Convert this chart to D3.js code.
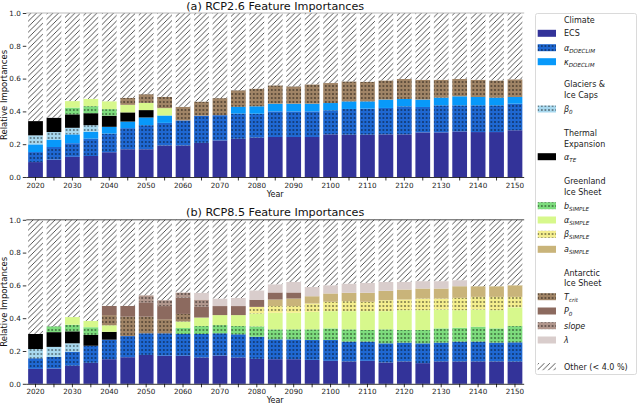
<!DOCTYPE html>
<html>
<head>
<meta charset="utf-8">
<script src="https://cdn.jsdelivr.net/npm/d3@7"></script>
<style>
  body { margin: 0; background: #fff; }
  svg { font-family: "DejaVu Sans", sans-serif; }
</style>
</head>
<body>
<svg id="chart" width="640" height="406"></svg>
<script>
// categories
const years = [2020, 2025, 2030, 2035, 2040, 2045, 2050, 2055, 2060, 2065, 2070, 2075, 2080, 2085,
  2090, 2095, 2100, 2105, 2110, 2115, 2120, 2125, 2130, 2135, 2140, 2145, 2150];
const yTicks = [0, 0.2, 0.4, 0.6, 0.8, 1.0];

// (a) RCP2.6 importances, one value per year
const ecs26 = [0.091, 0.106, 0.123, 0.128, 0.151, 0.169, 0.169, 0.192, 0.192, 0.208, 0.223, 0.233, 0.240, 0.244,
  0.244, 0.244, 0.260, 0.258, 0.258, 0.260, 0.260, 0.272, 0.272, 0.278, 0.274, 0.274, 0.285];
const aDoeclim26 = [0.061, 0.077, 0.083, 0.106, 0.114, 0.129, 0.147, 0.138, 0.153, 0.166, 0.154, 0.154, 0.146, 0.156,
  0.156, 0.156, 0.147, 0.157, 0.159, 0.161, 0.171, 0.155, 0.165, 0.159, 0.163, 0.163, 0.162];
const kDoeclim26 = [0.047, 0.045, 0.054, 0.041, 0.041, 0.040, 0.047, 0.045, 0, 0, 0, 0.041, 0.045, 0.047,
  0.047, 0.047, 0.044, 0.046, 0.044, 0.051, 0.045, 0.045, 0.047, 0.055, 0.051, 0.047, 0.041];
const beta026 = [0.055, 0.046, 0.040, 0.041, 0, 0, 0, 0, 0, 0, 0, 0, 0, 0,
  0, 0, 0, 0, 0, 0, 0, 0, 0, 0, 0, 0, 0];
const aTE26 = [0.087, 0.088, 0.082, 0.073, 0.068, 0.056, 0.045, 0, 0, 0, 0, 0, 0, 0,
  0, 0, 0, 0, 0, 0, 0, 0, 0, 0, 0, 0, 0];
const bSimple26 = [0, 0, 0.041, 0.043, 0.040, 0, 0, 0, 0, 0, 0, 0, 0, 0,
  0, 0, 0, 0, 0, 0, 0, 0, 0, 0, 0, 0, 0];
const alphaSimple26 = [0, 0, 0.040, 0.045, 0.048, 0.046, 0.044, 0.045, 0, 0, 0, 0, 0, 0,
  0, 0, 0, 0, 0, 0, 0, 0, 0, 0, 0, 0, 0];
const tCrit26 = [0, 0, 0, 0, 0, 0.043, 0.053, 0.069, 0.083, 0.086, 0.104, 0.101, 0.108, 0.112,
  0.106, 0.118, 0.122, 0.122, 0.120, 0.117, 0.122, 0.121, 0.109, 0.106, 0.105, 0.105, 0.108];

// (b) RCP8.5 importances
const ecs85 = [0.091, 0.093, 0.110, 0.128, 0.150, 0.162, 0.176, 0.171, 0.171, 0.160, 0.172, 0.160, 0.152, 0.150,
  0.150, 0.146, 0.140, 0.136, 0.140, 0.130, 0.136, 0.126, 0.136, 0.136, 0.136, 0.136, 0.135];
const aDoeclim85 = [0.065, 0.071, 0.086, 0.104, 0.119, 0.129, 0.132, 0.137, 0.133, 0.144, 0.136, 0.142, 0.135, 0.121,
  0.121, 0.121, 0.127, 0.121, 0.117, 0.117, 0.115, 0.121, 0.115, 0.121, 0.121, 0.115, 0.118];
const beta085 = [0.056, 0.061, 0.051, 0, 0, 0, 0, 0, 0, 0, 0, 0, 0, 0,
  0, 0, 0, 0, 0, 0, 0, 0, 0, 0, 0, 0, 0];
const aTE85 = [0.092, 0.090, 0.073, 0.066, 0.048, 0, 0, 0, 0, 0, 0, 0, 0, 0,
  0, 0, 0, 0, 0, 0, 0, 0, 0, 0, 0, 0, 0];
const bSimple85 = [0, 0.036, 0.040, 0.047, 0, 0, 0, 0, 0.036, 0.048, 0.050, 0.050, 0.063, 0.061,
  0.061, 0.065, 0.071, 0.075, 0.071, 0.085, 0.077, 0.081, 0.087, 0.085, 0.091, 0.087, 0.099];
const alphaSimple85 = [0, 0, 0.047, 0.039, 0.040, 0, 0, 0, 0.040, 0.052, 0.061, 0.067, 0.079, 0.101,
  0.101, 0.107, 0.105, 0.111, 0.115, 0.111, 0.121, 0.121, 0.115, 0.107, 0.105, 0.111, 0.114];
const betaSimple85 = [0, 0, 0, 0, 0, 0, 0, 0, 0, 0, 0, 0, 0.040, 0.041,
  0.041, 0.051, 0.057, 0.061, 0.057, 0.067, 0.065, 0.071, 0.067, 0.075, 0.077, 0.081, 0.064];
const aSimple85 = [0, 0, 0, 0, 0, 0, 0, 0, 0, 0, 0, 0, 0, 0.040,
  0.046, 0.044, 0.051, 0.051, 0.055, 0.057, 0.061, 0.061, 0.061, 0.071, 0.065, 0.065, 0.071];
const tCrit85 = [0, 0, 0, 0, 0.062, 0.118, 0.101, 0.086, 0.046, 0, 0, 0, 0, 0,
  0, 0, 0, 0, 0, 0, 0, 0, 0, 0, 0, 0, 0];
const p085 = [0, 0, 0, 0, 0.056, 0.066, 0.088, 0.080, 0.099, 0.068, 0.055, 0.055, 0.044, 0.043,
  0.037, 0, 0, 0, 0, 0, 0, 0, 0, 0, 0, 0, 0];
const slope85 = [0, 0, 0, 0, 0, 0, 0.043, 0.036, 0.032, 0.042, 0, 0, 0, 0,
  0, 0, 0, 0, 0, 0, 0, 0, 0, 0, 0, 0, 0];
const lambda85 = [0, 0, 0, 0, 0, 0, 0, 0, 0, 0.041, 0.046, 0.050, 0.057, 0.050,
  0.064, 0.057, 0.050, 0.056, 0.060, 0.054, 0.046, 0.045, 0.045, 0.037, 0, 0, 0];

// stacking order, bottom to top
const keys = ['ecs', 'aDoeclim', 'kDoeclim', 'beta0', 'aTE', 'bSimple', 'alphaSimple',
  'betaSimple', 'aSimple', 'tCrit', 'p0', 'slope', 'lambda', 'other'];

const colors = {
  ecs: '#333399', aDoeclim: '#1f68d2', kDoeclim: '#0899fa', beta0: '#a8d8ee', aTE: '#000000',
  bSimple: '#7ddc7d', alphaSimple: '#d7f88c', betaSimple: '#f4ee8e', aSimple: '#c9b47a',
  tCrit: '#a08466', p0: '#8c6a5f', slope: '#b0968c', lambda: '#d9cdcc', other: '#ffffff',
};
const dotted = ['aDoeclim', 'beta0', 'bSimple', 'betaSimple', 'tCrit', 'slope'];

const svg = d3.select('#chart');
const defs = svg.append('defs');

dotted.forEach((k) => {
  const p = defs.append('pattern')
    .attr('id', `dots-${k}`)
    .attr('patternUnits', 'userSpaceOnUse')
    .attr('width', 3.6)
    .attr('height', 4);
  p.append('rect').attr('width', 3.6).attr('height', 4).attr('fill', colors[k]);
  p.append('circle').attr('cx', 1.8).attr('cy', 2).attr('r', 0.65).attr('fill', '#000');
});

const hatch = defs.append('pattern')
  .attr('id', 'hatch')
  .attr('patternUnits', 'userSpaceOnUse')
  .attr('width', 5.5)
  .attr('height', 5.5);
hatch.append('rect').attr('width', 5.5).attr('height', 5.5).attr('fill', '#fff');
hatch.append('path')
  .attr('d', 'M0,5.5L5.5,0M-1,1L1,-1M4.5,6.5L6.5,4.5')
  .attr('stroke', '#1a1a1a')
  .attr('stroke-width', 0.75);

const fillOf = (k) => {
  if (k === 'other') return 'url(#hatch)';
  if (dotted.includes(k)) return `url(#dots-${k})`;
  return colors[k];
};

const x = d3.scaleBand()
  .domain(years)
  .range([26.3, 524.2])
  .paddingInner(0.2)
  .paddingOuter(0.1);

const panels = [
  {
    title: '(a) RCP2.6 Feature Importances', top: 13, bottom: 177,
    series: {
      ecs: ecs26, aDoeclim: aDoeclim26, kDoeclim: kDoeclim26, beta0: beta026, aTE: aTE26,
      bSimple: bSimple26, alphaSimple: alphaSimple26, tCrit: tCrit26,
    },
    spine: '#aaa',
  },
  {
    title: '(b) RCP8.5 Feature Importances', top: 219.8, bottom: 383.8,
    series: {
      ecs: ecs85, aDoeclim: aDoeclim85, beta0: beta085, aTE: aTE85, bSimple: bSimple85,
      alphaSimple: alphaSimple85, betaSimple: betaSimple85, aSimple: aSimple85, tCrit: tCrit85,
      p0: p085, slope: slope85, lambda: lambda85,
    },
    spine: '#222',
  },
];

panels.forEach((panel) => {
  const y = d3.scaleLinear().domain([0, 1]).range([panel.bottom, panel.top]);

  const table = years.map((yr, i) => {
    const row = { year: yr };
    let sum = 0;
    keys.slice(0, -1).forEach((k) => {
      row[k] = panel.series[k] ? panel.series[k][i] : 0;
      sum += row[k];
    });
    row.other = 1 - sum;
    return row;
  });

  const stacked = d3.stack().keys(keys)(table);

  const g = svg.append('g');

  g.selectAll('g.layer')
    .data(stacked)
    .enter()
    .append('g')
    .attr('class', 'layer')
    .attr('fill', d => fillOf(d.key))
    .selectAll('rect')
    .data(d => d.filter(v => v[1] - v[0] > 0))
    .enter()
    .append('rect')
    .attr('x', d => x(d.data.year))
    .attr('y', d => y(d[1]))
    .attr('width', x.bandwidth())
    .attr('height', d => y(d[0]) - y(d[1]));

  // spines
  g.append('line')
    .attr('x1', 26.3).attr('x2', 524.2)
    .attr('y1', panel.top).attr('y2', panel.top)
    .attr('stroke', panel.spine).attr('stroke-width', 0.8);

  const xAxis = g.append('g')
    .attr('transform', `translate(0,${panel.bottom})`)
    .call(d3.axisBottom(x)
      .tickSizeOuter(0)
      .tickSize(3.5)
      .tickPadding(2)
      .tickFormat(d => (d % 10 === 0 ? d : '')));
  xAxis.select('.domain').attr('d', 'M26.3,0.5H524.2').attr('stroke', '#000').attr('stroke-width', 0.8);
  xAxis.selectAll('.tick line').attr('stroke-width', 0.8);
  xAxis.selectAll('text').attr('font-size', 7.2).attr('font-family', 'DejaVu Sans').attr('fill', '#222');

  const yAxis = g.append('g')
    .attr('transform', 'translate(26.3,0)')
    .call(d3.axisLeft(y)
      .tickValues(yTicks)
      .tickSize(3.5)
      .tickPadding(2)
      .tickFormat(d3.format('.1f')));
  yAxis.select('.domain').remove();
  yAxis.selectAll('.tick line').attr('stroke-width', 0.8);
  yAxis.selectAll('text').attr('font-size', 7.2).attr('font-family', 'DejaVu Sans').attr('fill', '#222');

  g.append('text')
    .attr('x', 275.2)
    .attr('y', panel.top - 3.4)
    .attr('text-anchor', 'middle')
    .attr('font-size', 11.2)
    .attr('fill', '#111')
    .text(panel.title);

  g.append('text')
    .attr('x', 275.2)
    .attr('y', panel.bottom + 19.5)
    .attr('text-anchor', 'middle')
    .attr('font-size', 8)
    .attr('fill', '#111')
    .text('Year');

  g.append('text')
    .attr('transform', `translate(7,${(panel.top + panel.bottom) / 2}) rotate(-90)`)
    .attr('text-anchor', 'middle')
    .attr('font-size', 8.5)
    .attr('fill', '#111')
    .text('Relative Importances');
});

// legend
const legendItems = [
  { head: ['Climate'], y: 20 },
  { key: 'ecs', label: 'ECS', math: false, y: 33.3 },
  { key: 'aDoeclim', label: 'α', sub: 'DOECLIM', y: 47.7 },
  { key: 'kDoeclim', label: 'κ', sub: 'DOECLIM', y: 61.7 },
  { head: ['Glaciers &', 'Ice Caps'], y: 84.3 },
  { key: 'beta0', label: 'β', sub: '0', y: 109 },
  { head: ['Thermal', 'Expansion'], y: 133.3 },
  { key: 'aTE', label: 'α', sub: 'TE', y: 156.7 },
  { head: ['Greenland', 'Ice Sheet'], y: 181 },
  { key: 'bSimple', label: 'b', sub: 'SIMPLE', y: 205.7 },
  { key: 'alphaSimple', label: 'α', sub: 'SIMPLE', y: 220 },
  { key: 'betaSimple', label: 'β', sub: 'SIMPLE', y: 234.3 },
  { key: 'aSimple', label: 'a', sub: 'SIMPLE', y: 249.3 },
  { head: ['Antarctic', 'Ice Sheet'], y: 272.7 },
  { key: 'tCrit', label: 'T', sub: 'crit', y: 296.7 },
  { key: 'p0', label: 'P', sub: '0', y: 311 },
  { key: 'slope', label: 'slope', y: 325.7 },
  { key: 'lambda', label: 'λ', y: 340 },
  { key: 'other', label: 'Other (< 4.0 %)', math: false, y: 366.7 },
];

const legend = svg.append('g').attr('font-size', 8).attr('fill', '#222');

legend.append('rect')
  .attr('x', 535.5)
  .attr('y', 13.5)
  .attr('width', 101)
  .attr('height', 361)
  .attr('rx', 2)
  .attr('fill', '#fff')
  .attr('stroke', '#d0d0d0')
  .attr('stroke-width', 0.8);

legendItems.forEach((item) => {
  if (item.head) {
    item.head.forEach((line, i) => {
      legend.append('text')
        .attr('x', 564)
        .attr('y', item.y + 3 + i * 10.7)
        .text(line);
    });
    return;
  }
  legend.append('rect')
    .attr('x', 537.7)
    .attr('y', item.y - 3.5)
    .attr('width', 18.3)
    .attr('height', 7)
    .attr('fill', fillOf(item.key));
  const t = legend.append('text')
    .attr('x', 564)
    .attr('y', item.y + 3);
  t.append('tspan')
    .attr('font-style', item.math === false ? 'normal' : 'italic')
    .text(item.label);
  if (item.sub) {
    t.append('tspan')
      .attr('font-style', 'italic')
      .attr('font-size', 5.6)
      .attr('dy', 1.8)
      .text(item.sub);
  }
});
</script>
</body>
</html>
